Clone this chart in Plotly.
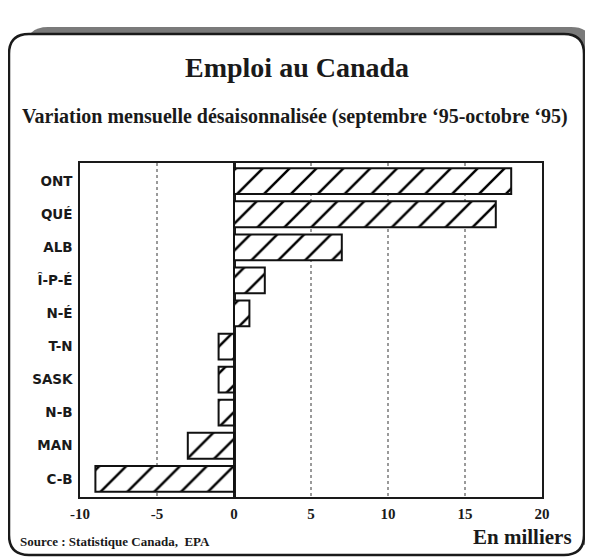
import plotly.graph_objects as go

provinces = ["ONT", "QUÉ", "ALB", "Î-P-É", "N-É", "T-N", "SASK", "N-B", "MAN", "C-B"]
variation = [18, 17, 7, 2, 1, -1, -1, -1, -3, -9]
x_ticks = [-10, -5, 0, 5, 10, 15, 20]

OFF = 8  # page body margin
W, H = 593 - OFF, 558 - OFF
L, R, T, B = 80 - OFF, 542 - OFF, 163 - OFF, 497 - OFF


def px(x):
    return (x - OFF - L) / (R - L)


def py(y):
    return (B - (y - OFF)) / (B - T)


def rrect(x0, y0, x1, y1, r):
    return (
        f"M {px(x0 + r)} {py(y0)} L {px(x1 - r)} {py(y0)} "
        f"Q {px(x1)} {py(y0)} {px(x1)} {py(y0 + r)} "
        f"L {px(x1)} {py(y1 - r)} Q {px(x1)} {py(y1)} {px(x1 - r)} {py(y1)} "
        f"L {px(x0 + r)} {py(y1)} Q {px(x0)} {py(y1)} {px(x0)} {py(y1 - r)} "
        f"L {px(x0)} {py(y0 + r)} Q {px(x0)} {py(y0)} {px(x0 + r)} {py(y0)} Z"
    )


fig = go.Figure()
fig.add_trace(go.Bar(
    y=provinces,
    x=variation,
    orientation="h",
    marker=dict(
        color="white",
        line=dict(color="#111", width=2),
        pattern=dict(shape="/", fgcolor="#000000", bgcolor="white", fgopacity=1,
                     size=19, solidity=0.13),
    ),
    width=0.78,
    hoverinfo="x+y",
))

shapes = [
    dict(type="path", xref="paper", yref="paper", path=rrect(26, 27, 593, 548, 22),
         fillcolor="#7a7a7a", line=dict(width=0), layer="below"),
    dict(type="path", xref="paper", yref="paper", path=rrect(9, 34, 584, 555, 20),
         fillcolor="white", line=dict(color="#1a1a1a", width=2.5), layer="below"),
]

serif = "Liberation Serif"
annotations = [
    dict(text="Emploi au Canada", x=px(297), y=py(68), xref="paper", yref="paper",
         showarrow=False, font=dict(family=serif, size=28, color="#1a1a1a", weight="bold"),
         xanchor="center", yanchor="middle"),
    dict(text="Variation mensuelle désaisonnalisée (septembre ‘95-octobre ‘95)", x=px(295), y=py(117),
         xref="paper", yref="paper", showarrow=False,
         font=dict(family=serif, size=20, color="#1a1a1a", weight="bold"),
         xanchor="center", yanchor="middle"),
    dict(text="Source : Statistique Canada,  EPA", x=px(18), y=py(541), xref="paper", yref="paper",
         showarrow=False, font=dict(family=serif, size=13, color="#1a1a1a", weight="bold"),
         xanchor="left", yanchor="middle"),
    dict(text="En milliers", x=px(574), y=py(537), xref="paper", yref="paper",
         showarrow=False, font=dict(family=serif, size=21, color="#1a1a1a", weight="bold"),
         xanchor="right", yanchor="middle"),
]

fig.update_layout(
    width=W, height=H,
    margin=dict(l=L, r=W - R, t=T, b=H - B, pad=0),
    paper_bgcolor="white",
    plot_bgcolor="rgba(0,0,0,0)",
    showlegend=False,
    bargap=0.22,
    shapes=shapes,
    annotations=annotations,
    xaxis=dict(
        range=[-10, 20],
        tickvals=x_ticks,
        ticktext=[str(v) for v in x_ticks],
        showgrid=True, gridcolor="#9a9a9a", griddash="dot", gridwidth=1.5,
        zeroline=True, zerolinecolor="#1a1a1a", zerolinewidth=3,
        showline=True, linecolor="#1a1a1a", linewidth=1.5, mirror=True,
        ticks="", ticklabelstandoff=2,
        tickfont=dict(family=serif, size=15, color="#1a1a1a", weight="bold"),
        fixedrange=True,
    ),
    yaxis=dict(
        categoryorder="array",
        categoryarray=provinces[::-1],
        showgrid=False, zeroline=False,
        showline=True, linecolor="#1a1a1a", linewidth=1.5, mirror=True,
        ticks="", ticklabelstandoff=3,
        tickfont=dict(family="DejaVu Sans", size=13.5, color="#1a1a1a", weight="bold"),
        range=[-0.55, 9.55],
        fixedrange=True,
    ),
)

fig.write_html("out.html")
